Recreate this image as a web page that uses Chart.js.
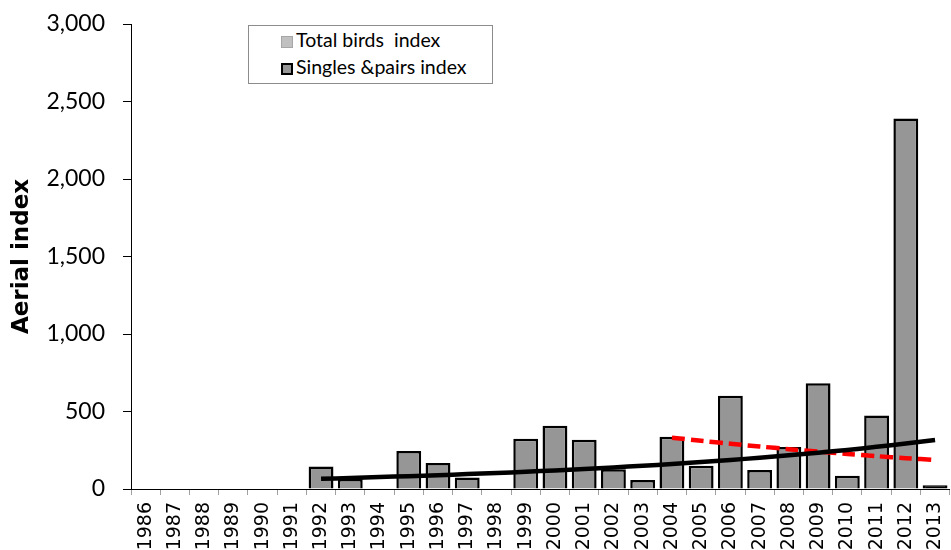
<!DOCTYPE html>
<html>
<head>
<meta charset="utf-8">
<script src="https://cdn.jsdelivr.net/npm/chart.js@4.4.1/dist/chart.umd.min.js"></script>
<style>
  body { margin: 0; overflow: hidden; background: #fff; }
  #wrap { position: relative; width: 965px; height: 550px; }
  #legend {
    position: absolute; left: 248px; top: 25px; width: 243px; height: 57px;
    border: 1px solid #8c8c8c; background: #fff;
    font-family: Lato, sans-serif; font-size: 19.5px; color: #000;
  }
  #legend div { position: absolute; left: 32px; white-space: pre; }
  #legend span { display: inline-block; width: 12px; height: 12px; margin-right: 3px; vertical-align: -1px; box-sizing: border-box; }
</style>
</head>
<body>
<div id="wrap">
  <canvas id="chart"></canvas>
  <div id="legend">
    <div style="top:2px"><span style="background:#c0c0c0;border:1px solid #a6a6a6"></span>Total birds  index</div>
    <div style="top:29px"><span style="background:#969696;border:2px solid #000"></span>Singles &amp;pairs index</div>
  </div>
</div>
<script>
// years on the x axis
const years = ['1986','1987','1988','1989','1990','1991','1992','1993','1994','1995','1996','1997','1998','1999',
  '2000','2001','2002','2003','2004','2005','2006','2007','2008','2009','2010','2011','2012','2013'];

// bars (aerial index)
const totalBirds = years.map(() => null);
const singlesPairs = [null,null,null,null,null,null,145,65,null,245,168,75,null,325,
  408,318,127,58,337,150,602,123,271,682,86,475,2390,25];

// trend lines (black = long term, red dashed = since 2004)
const trendAll = [null,null,null,null,null,null,66,71,77,83,89,96,103,111,
  120,129,139,150,161,174,187,202,217,234,252,272,293,316];
const trend2004 = [null,null,null,null,null,null,null,null,null,null,null,null,null,null,
  null,null,null,null,331,311,292,274,257,241,226,212,199,187];

const yTicks = [0, 500, 1000, 1500, 2000, 2500, 3000];

const ctx = document.getElementById('chart').getContext('2d');
const chart = new Chart(ctx, {
  type: 'bar',
  data: {
    labels: years,
    datasets: [
      { type: 'line', label: 'trend', data: trendAll, borderColor: '#000', borderWidth: 4.5,
        pointRadius: 0, tension: 0.3, order: 0 },
      { type: 'line', label: 'trend 2004', data: trend2004, borderColor: '#ff0000', borderWidth: 4.5,
        borderDash: [13, 6], pointRadius: 0, tension: 0.3, order: 0 },
      { label: 'Total birds  index', data: totalBirds, backgroundColor: '#c0c0c0', borderColor: '#a6a6a6',
        borderWidth: 1, grouped: false, order: 2 },
      { label: 'Singles &pairs index', data: singlesPairs,
        // very short bars show only their black outline
        backgroundColor: (c) => (c.raw != null && c.raw < 50 ? '#000' : '#969696'),
        borderColor: '#000', borderWidth: 2.5, grouped: false, order: 1 }
    ]
  },
  options: {
    responsive: true,
    maintainAspectRatio: false,
    animation: false,
    layout: { padding: { top: 24, right: 8, left: 0, bottom: 0 } },
    categoryPercentage: 1.0,
    barPercentage: 0.85,
    plugins: { legend: { display: false }, tooltip: { enabled: false } },
    scales: {
      x: {
        offset: true,
        grid: { display: true, drawOnChartArea: false, offset: true, color: '#a0a0a0', tickLength: 6 },
        border: { color: '#000', width: 1 },
        ticks: {
          autoSkip: false, maxRotation: 90, minRotation: 90, padding: 7, color: '#000',
          font: { family: 'DejaVu Sans', size: 19 }
        },
        afterFit: (scale) => { scale.height = 61; }
      },
      y: {
        min: 0, max: 3000,
        afterBuildTicks: (scale) => { scale.ticks = yTicks.map(v => ({ value: v })); },
        grid: { display: true, drawOnChartArea: false, color: '#000', tickLength: 8 },
        border: { color: '#000', width: 1 },
        ticks: {
          padding: 18, color: '#000',
          font: { family: 'Lato', size: 23 },
          callback: (v) => v.toLocaleString('en-US')
        },
        title: {
          display: true, text: 'Aerial index', color: '#000',
          font: { family: 'DejaVu Sans', size: 23, weight: 'bold' },
          padding: { top: 8, bottom: 0 }
        },
        afterFit: (scale) => {
          scale.width = 131;
          scale.paddingTop = 12;
          scale.paddingBottom = 12;
        }
      }
    }
  }
});
</script>
</body>
</html>
